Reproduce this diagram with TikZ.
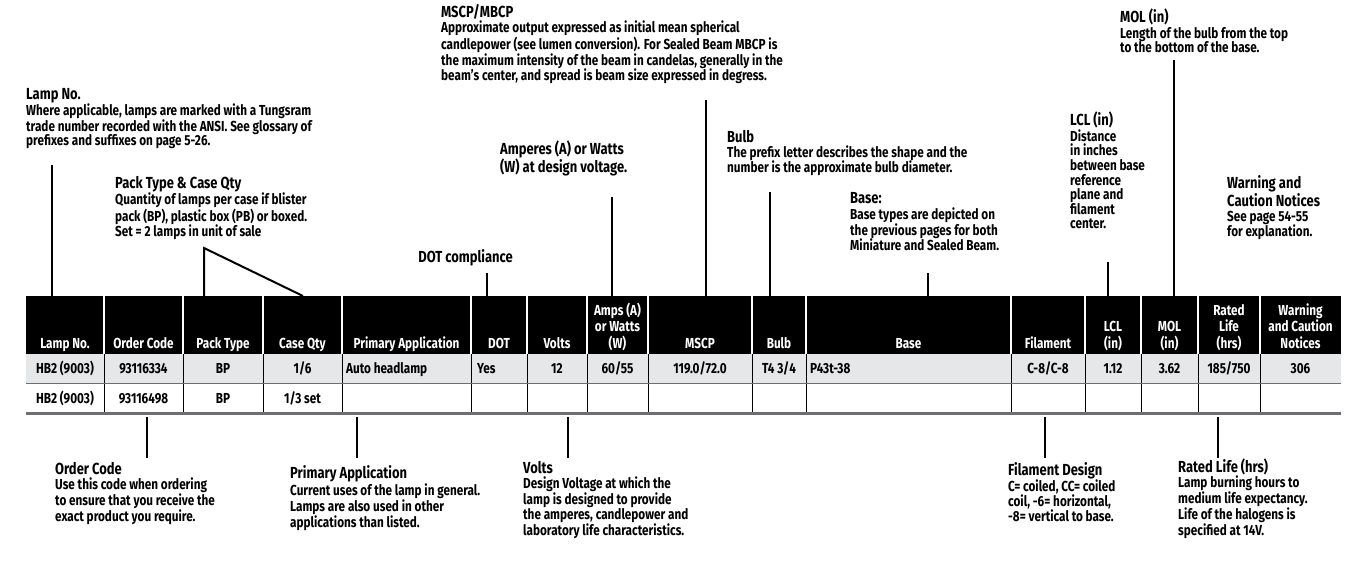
\documentclass[tikz,border=0pt]{standalone}
\usepackage{fontspec}
\setmainfont{Fira Sans}[FakeStretch=0.81]
\usetikzlibrary{positioning}
\definecolor{rowgray}{HTML}{E6E7E8}
\definecolor{rulegray}{HTML}{6D6E71}
\newcommand{\notefont}{\bfseries\fontsize{14.5}{14.6}\selectfont}
\newcommand{\notehead}{\fontsize{16}{16}\selectfont}
\newcommand{\cellfont}{\bfseries\fontsize{14.5}{16.5}\selectfont}
\tikzset{lead/.style = {line width=2pt},
         note/.style = {anchor=base west, inner sep=0pt, align=left, font=\notefont},
         headtext/.style = {anchor=base, inner sep=0pt, align=center, text=white, font=\cellfont},
         celltext/.style = {anchor=base, inner sep=0pt, font=\cellfont}}

\begin{document}
\begin{tikzpicture}[x=1pt, y=-1pt]
      \useasboundingbox (0,0) rectangle (1362,561);
      % table
      \node [fill=black, inner sep=0pt, minimum width=1315pt, minimum height=58pt, anchor=north west] (head) at (26,296) {};
      \node [fill=rowgray, inner sep=0pt, minimum width=1315pt, minimum height=29pt, anchor=north west] (rowa) at (26,354) {};
      \node [inner sep=0pt, minimum width=1315pt, minimum height=30pt, anchor=north west] (rowb) at (26,383) {};
      \foreach \x in {104,183,263,342,471,527,587,648,752,806,1011,1085,1141,1198,1260} {
        \draw [white, line width=1.5pt] (\x,296) -- (\x,354);
        \draw [line width=1pt] (\x,354) -- (\x,413);
      }
      \draw [rulegray, line width=1pt] (rowb.north west) -- (rowb.north east);
      \draw [rulegray, line width=2.5pt] (rowb.south west) -- (rowb.south east);
      % header (base = last line)
      \foreach \x/\t [count=\i] in {65/Lamp No., 143.5/Order Code, 223/Pack Type, 302.5/Case Qty,
                                   406.5/Primary Application, 499/DOT, 557/Volts, 617.5/Amps (A)\\or Watts\\(W),
                                   700/MSCP, 779/Bulb, 908.5/Base, 1048/Filament, 1113/LCL\\(in), 1169.5/MOL\\(in),
                                   1229/Rated\\Life\\(hrs), 1300.5/Warning\\and Caution\\Notices}
        \node [headtext] (h\i) at (\x,348) {\t};
      % rows
      \foreach \x/\t [count=\i] in {65/HB2 (9003), 143.5/93116334, 223/BP, 302.5/{1/6}, 557/12, 617.5/{60/55},
                                   700/{119.0/72.0}, 779/T4 3\slash4, 1048/{C-8/C-8}, 1113/1.12, 1169.5/3.62,
                                   1229/{185/750}, 1300.5/306}
        \node [celltext] (ra\i) at (\x,373) {\t};
      \node [celltext, anchor=base west] (ra14) at (346,373) {Auto headlamp};
      \node [celltext, anchor=base west] (ra15) at (477,373) {Yes};
      \node [celltext, anchor=base west] (ra16) at (810,373) {P43t-38};
      \foreach \x/\t [count=\i] in {65/HB2 (9003), 143.5/93116498, 223/BP, 302.5/{1/3 set}}
        \node [celltext] (rb\i) at (\x,403) {\t};
      % notes above (placed by last line)
      \node [note] (lampnote) at (26,146) {{\notehead Lamp No.}\\
        Where applicable, lamps are marked with a Tungsram\\
        trade number recorded with the ANSI. See glossary of\\
        prefixes and suffixes on page 5-26.};
      \node [note] (packnote) at (115,237) {{\notehead Pack Type \& Case Qty}\\
        Quantity of lamps per case if blister\\
        pack (BP), plastic box (PB) or boxed.\\
        Set = 2 lamps in unit of sale};
      \node [note, anchor=base east] (dotnote) at (513,263) {\notehead DOT compliance};
      \node [note] (mscpnote) at (441,81) {{\notehead MSCP/MBCP}\\
        Approximate output expressed as initial mean spherical\\
        candlepower (see lumen conversion). For Sealed Beam MBCP is\\
        the maximum intensity of the beam in candelas, generally in the\\
        beam’s center, and spread is beam size expressed in degress.};
      \node [note, font=\bfseries\notehead] (ampnote) at (500,173) {Amperes (A) or Watts\\(W) at design voltage.};
      \node [note] (bulbnote) at (727,173) {{\notehead Bulb}\\
        The prefix letter describes the shape and the\\
        number is the approximate bulb diameter.};
      \node [note] (basenote) at (850,251) {{\notehead Base:}\\[1pt]
        Base types are depicted on\\
        the previous pages for both\\
        Miniature and Sealed Beam.};
      \node [note] (lclnote) at (1070,229) {{\notehead LCL (in)}\\[1pt]
        Distance\\ in inches\\ between base\\ reference\\ plane and\\ filament\\ center.};
      \node [note] (molnote) at (1120,53) {{\notehead MOL (in)}\\[1pt]
        Length of the bulb from the top\\
        to the bottom of the base.};
      \node [note] (warnnote) at (1227,237) {{\notehead Warning and}\\ {\notehead Caution Notices}\\
        See page 54-55\\
        for explanation.};
      % notes below
      \node [note] (ordernote) at (55,521) {{\notehead Order Code}\\
        Use this code when ordering\\
        to ensure that you receive the\\
        exact product you require.};
      \node [note] (applnote) at (290,527) {{\notehead Primary Application}\\
        Current uses of the lamp in general.\\
        Lamps are also used in other\\
        applications than listed.};
      \node [note] (voltnote) at (523,535) {{\notehead Volts}\\
        Design Voltage at which the\\
        lamp is designed to provide\\
        the amperes, candlepower and\\
        laboratory life characteristics.};
      \node [note] (filnote) at (1008,521) {{\notehead Filament Design}\\
        C= coiled, CC= coiled\\
        coil, -6= horizontal,\\
        -8= vertical to base.};
      \node [note] (lifenote) at (1178,535) {{\notehead Rated Life (hrs)}\\
        Lamp burning hours to\\
        medium life expectancy.\\
        Life of the halogens is\\
        specified at 14V.};
      % leaders
      \coordinate (lampend) at (52,165);
      \coordinate (packend) at (204,248);
      \coordinate (caseend) at (303,296);
      \coordinate (dotend) at (487,273);
      \coordinate (ampend) at (612,197);
      \coordinate (mscpend) at (706,100);
      \coordinate (bulbend) at (770,192);
      \coordinate (baseend) at (928,273);
      \coordinate (lclend) at (1108,262);
      \coordinate (molend) at (1174,60);
      \foreach \c in {lampend, dotend, ampend, mscpend, bulbend, baseend, lclend, molend}
        \draw [lead] (\c) -- (\c |- head.north);
      \draw [lead] (packend |- head.north) -- (packend) -- (caseend);
      \coordinate (orderend) at (147,458);
      \coordinate (applend) at (357,458);
      \coordinate (voltend) at (568,458);
      \coordinate (filend) at (1045,458);
      \coordinate (lifeend) at (1218,458);
      \foreach \c in {orderend, applend, voltend, filend, lifeend}
        \draw [lead, shorten <=4pt] (\c |- rowb.south) -- (\c);
    \end{tikzpicture}
\end{document}
